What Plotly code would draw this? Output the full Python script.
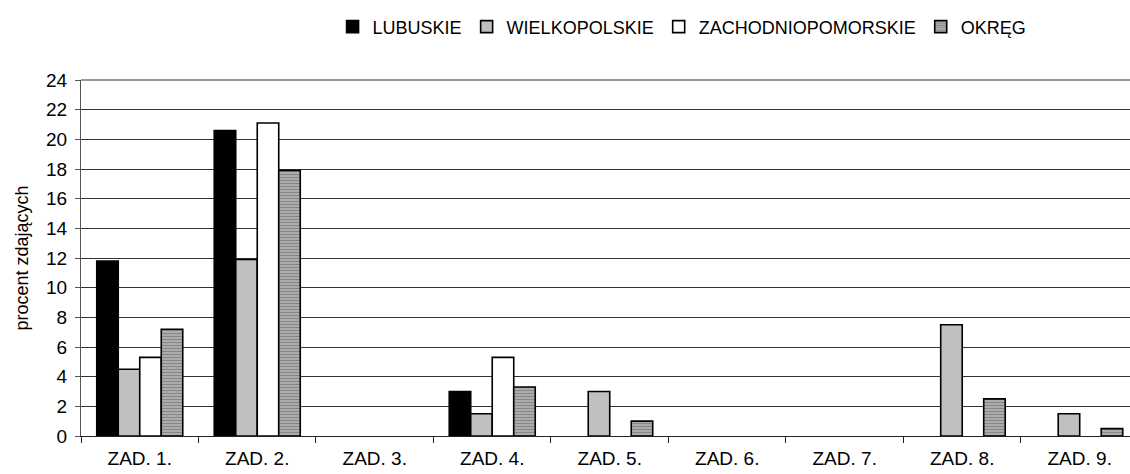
import plotly.graph_objects as go

# Kategorie zadań i wyniki (procent zdających) dla poszczególnych województw
zadania = ["ZAD. 1.", "ZAD. 2.", "ZAD. 3.", "ZAD. 4.", "ZAD. 5.",
           "ZAD. 6.", "ZAD. 7.", "ZAD. 8.", "ZAD. 9."]
lubuskie = [11.8, 20.6, 0, 3.0, 0, 0, 0, 0, 0]
wielkopolskie = [4.5, 11.9, 0, 1.5, 3.0, 0, 0, 7.5, 1.5]
zachodniopomorskie = [5.3, 21.1, 0, 5.3, 0, 0, 0, 0, 0]
okreg = [7.2, 17.9, 0, 3.3, 1.0, 0, 0, 2.5, 0.5]

FONT = "Liberation Sans, Arial, sans-serif"
outline = dict(color="black", width=1.6)


def bez_zer(wartosci):
    # słupki o wartości zero nie są rysowane (brak obrysu na osi)
    return [v if v else None for v in wartosci]


fig = go.Figure()
fig.add_trace(go.Bar(name="LUBUSKIE", x=zadania, y=bez_zer(lubuskie),
                     marker=dict(color="black", line=outline)))
fig.add_trace(go.Bar(name="WIELKOPOLSKIE", x=zadania, y=bez_zer(wielkopolskie),
                     marker=dict(color="#c0c0c0", line=outline)))
fig.add_trace(go.Bar(name="ZACHODNIOPOMORSKIE", x=zadania,
                     y=bez_zer(zachodniopomorskie),
                     marker=dict(color="white", line=outline)))
fig.add_trace(go.Bar(name="OKRĘG", x=zadania, y=bez_zer(okreg),
                     marker=dict(color="#c4c4c4", line=outline,
                                 pattern=dict(shape="-", fgcolor="#4a4a4a",
                                              bgcolor="#c4c4c4", size=3,
                                              solidity=0.6))))

fig.update_layout(
    width=1130, height=474,
    margin=dict(l=81, r=0, t=80, b=38),
    paper_bgcolor="white", plot_bgcolor="white",
    barmode="group", bargap=0.268, bargroupgap=0,
    font=dict(family=FONT, color="black", size=18),
    legend=dict(orientation="h", x=0.573, xanchor="center",
                y=1.149, yanchor="middle",
                font=dict(size=18), itemwidth=30, tracegroupgap=0,
                traceorder="normal"),
    showlegend=True,
)

fig.update_xaxes(
    range=[-0.5, 8.428], type="category",
    showline=True, linecolor="#222222", linewidth=1,
    ticks="outside", tickson="boundaries", ticklen=6,
    tickcolor="#222222", tickfont=dict(size=19),
    showgrid=False, ticklabelstandoff=5,
)
fig.update_yaxes(
    range=[0, 24], dtick=2, tick0=0,
    showline=True, linecolor="#555555", linewidth=1,
    ticks="outside", ticklen=5, tickcolor="#555555",
    showgrid=True, gridcolor="#333333", gridwidth=1,
    zeroline=False, tickfont=dict(size=19), ticklabelstandoff=4,
    title=dict(text="procent zdających", font=dict(size=18), standoff=12),
)

# górna krawędź obszaru wykresu
fig.add_shape(type="line", xref="paper", yref="paper", x0=0, x1=1, y0=1, y1=1,
              line=dict(color="#999999", width=2))

fig.write_html("out.html")
